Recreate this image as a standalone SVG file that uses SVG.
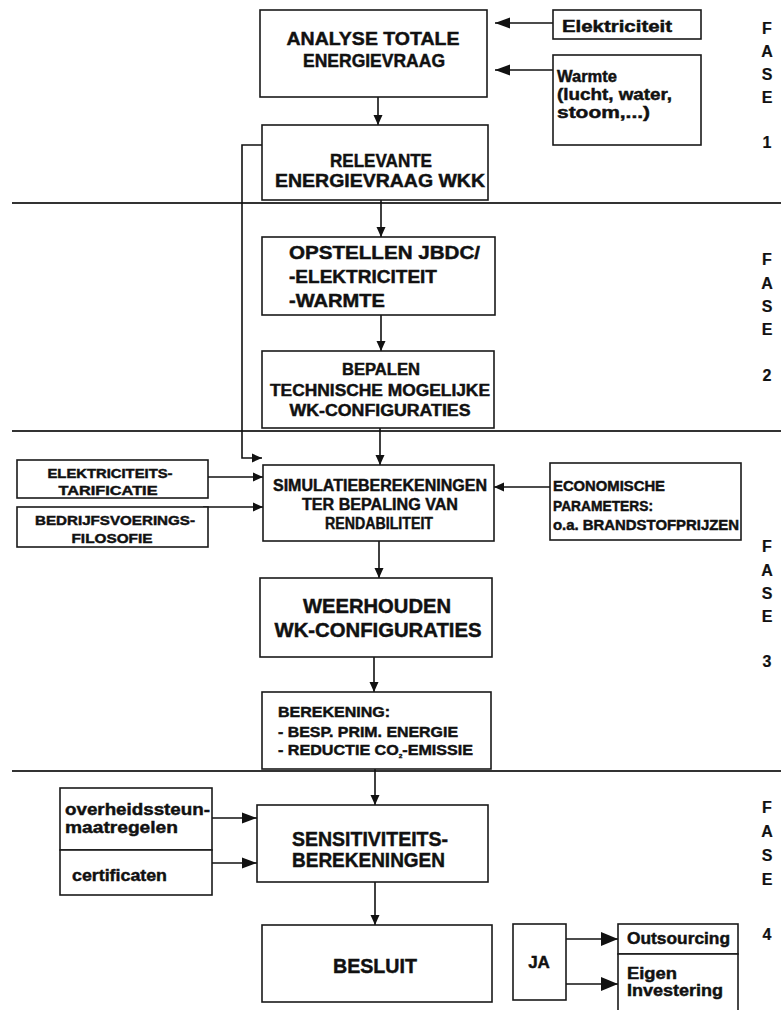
<svg xmlns="http://www.w3.org/2000/svg" width="781" height="1010" viewBox="0 0 781 1010">
<defs>
<style>
.box{fill:#fff;stroke:#1a1a1a;stroke-width:1.6}
.sep{stroke:#333;stroke-width:2}
.con{fill:none;stroke:#111;stroke-width:1.6}
text{font-family:"Liberation Sans",Arial,sans-serif;font-weight:bold;fill:#111;stroke:#111;stroke-width:0.45}
.c{text-anchor:middle}
.fase{font-size:16px;text-anchor:middle;stroke-width:0.2}
</style>
<marker id="aS" markerUnits="userSpaceOnUse" markerWidth="10" markerHeight="10" refX="10" refY="5" orient="auto"><path d="M0,0.5 L10,5 L0,9.5Z" fill="#111"/></marker>
<marker id="aM" markerUnits="userSpaceOnUse" markerWidth="15" markerHeight="12" refX="15" refY="6" orient="auto"><path d="M0,0.5 L15,6 L0,11.5Z" fill="#111"/></marker>
<marker id="aL" markerUnits="userSpaceOnUse" markerWidth="17" markerHeight="14" refX="17" refY="7" orient="auto"><path d="M0,0 L17,7 L0,14Z" fill="#111"/></marker>
</defs>
<rect width="781" height="1010" fill="#fff"/>

<g id="separators">
<line class="sep" x1="12" y1="203" x2="781" y2="203"/>
<line class="sep" x1="12" y1="431" x2="781" y2="431"/>
<line class="sep" x1="12" y1="771" x2="781" y2="771"/>
</g>

<g id="connectors">
<path class="con" d="M553,23 H495" marker-end="url(#aM)"/>
<path class="con" d="M553,70 H495" marker-end="url(#aM)"/>
<path class="con" d="M378,97 V125" marker-end="url(#aS)"/>
<path class="con" d="M262,145 H242 V458 H262" marker-end="url(#aS)"/>
<path class="con" d="M381,200 V237" marker-end="url(#aS)"/>
<path class="con" d="M381,315 V351" marker-end="url(#aS)"/>
<path class="con" d="M380,428 V465" marker-end="url(#aS)"/>
<path class="con" d="M203,477 H263" marker-end="url(#aS)"/>
<path class="con" d="M203,507 H263" marker-end="url(#aS)"/>
<path class="con" d="M550,487 H494" marker-end="url(#aS)"/>
<path class="con" d="M379,541 V578" marker-end="url(#aS)"/>
<path class="con" d="M374,657 V692" marker-end="url(#aS)"/>
<path class="con" d="M375,769 V805" marker-end="url(#aS)"/>
<path class="con" d="M212,818 H257" marker-end="url(#aM)"/>
<path class="con" d="M212,863 H257" marker-end="url(#aM)"/>
<path class="con" d="M375,882 V925" marker-end="url(#aS)"/>
<path class="con" d="M566,939 H618" marker-end="url(#aL)"/>
<path class="con" d="M566,984 H618" marker-end="url(#aL)"/>
</g>

<g id="analyse">
<rect class="box" x="260" y="10" width="227" height="87"/>
<text class="c" x="373" y="45" font-size="18" textLength="173" lengthAdjust="spacingAndGlyphs">ANALYSE TOTALE</text>
<text class="c" x="374" y="67" font-size="18" textLength="142" lengthAdjust="spacingAndGlyphs">ENERGIEVRAAG</text>
</g>
<g id="elektriciteit">
<rect class="box" x="553" y="10" width="148" height="29"/>
<text x="562" y="32" font-size="16" textLength="110" lengthAdjust="spacingAndGlyphs">Elektriciteit</text>
</g>
<g id="warmte">
<rect class="box" x="553" y="55" width="148" height="90"/>
<text x="557" y="82" font-size="16" textLength="60" lengthAdjust="spacingAndGlyphs">Warmte</text>
<text x="557" y="100" font-size="16" textLength="115" lengthAdjust="spacingAndGlyphs">(lucht, water,</text>
<text x="557" y="118" font-size="16" textLength="93" lengthAdjust="spacingAndGlyphs">stoom,...)</text>
</g>
<g id="relevante">
<rect class="box" x="262" y="125" width="226" height="75"/>
<text class="c" x="381" y="167" font-size="19" textLength="102" lengthAdjust="spacingAndGlyphs">RELEVANTE</text>
<text class="c" x="380" y="187" font-size="19" textLength="210" lengthAdjust="spacingAndGlyphs">ENERGIEVRAAG WKK</text>
</g>
<g id="fase1">
<text class="fase" x="767" y="34">F</text>
<text class="fase" x="767" y="57">A</text>
<text class="fase" x="767" y="80">S</text>
<text class="fase" x="767" y="103">E</text>
<text class="fase" x="767" y="148">1</text>
</g>

<g id="opstellen">
<rect class="box" x="262" y="237" width="233" height="78"/>
<text x="289" y="259" font-size="18" textLength="191" lengthAdjust="spacingAndGlyphs">OPSTELLEN JBDC/</text>
<text x="289" y="283" font-size="18" textLength="148" lengthAdjust="spacingAndGlyphs">-ELEKTRICITEIT</text>
<text x="289" y="307" font-size="18" textLength="96" lengthAdjust="spacingAndGlyphs">-WARMTE</text>
</g>
<g id="bepalen">
<rect class="box" x="262" y="351" width="232" height="77"/>
<text class="c" x="381" y="375" font-size="16" textLength="78" lengthAdjust="spacingAndGlyphs">BEPALEN</text>
<text class="c" x="380" y="396" font-size="16" textLength="220" lengthAdjust="spacingAndGlyphs">TECHNISCHE MOGELIJKE</text>
<text class="c" x="380" y="416" font-size="16" textLength="181" lengthAdjust="spacingAndGlyphs">WK-CONFIGURATIES</text>
</g>
<g id="fase2">
<text class="fase" x="767" y="265">F</text>
<text class="fase" x="767" y="289">A</text>
<text class="fase" x="767" y="312">S</text>
<text class="fase" x="767" y="335">E</text>
<text class="fase" x="767" y="381">2</text>
</g>

<g id="tarificatie">
<rect class="box" x="17" y="460" width="191" height="38"/>
<text class="c" x="110" y="478" font-size="13" textLength="125" lengthAdjust="spacingAndGlyphs">ELEKTRICITEITS-</text>
<text class="c" x="108" y="495" font-size="13" textLength="99" lengthAdjust="spacingAndGlyphs">TARIFICATIE</text>
</g>
<g id="bedrijfsvoering">
<rect class="box" x="17" y="507" width="191" height="40"/>
<text class="c" x="115" y="525" font-size="13" textLength="160" lengthAdjust="spacingAndGlyphs">BEDRIJFSVOERINGS-</text>
<text class="c" x="112" y="543" font-size="13" textLength="81" lengthAdjust="spacingAndGlyphs">FILOSOFIE</text>
</g>
<g id="simulatie">
<rect class="box" x="263" y="465" width="231" height="76"/>
<text class="c" x="380" y="491" font-size="16" textLength="214" lengthAdjust="spacingAndGlyphs">SIMULATIEBEREKENINGEN</text>
<text class="c" x="380" y="510" font-size="16" textLength="156" lengthAdjust="spacingAndGlyphs">TER BEPALING VAN</text>
<text class="c" x="379" y="529" font-size="16" textLength="108" lengthAdjust="spacingAndGlyphs">RENDABILITEIT</text>
</g>
<g id="economisch">
<rect class="box" x="550" y="463" width="191" height="77"/>
<text x="553" y="491" font-size="14" textLength="112" lengthAdjust="spacingAndGlyphs">ECONOMISCHE</text>
<text x="553" y="511" font-size="14" textLength="100" lengthAdjust="spacingAndGlyphs">PARAMETERS:</text>
<text x="553" y="530" font-size="14" textLength="186" lengthAdjust="spacingAndGlyphs">o.a. BRANDSTOFPRIJZEN</text>
</g>
<g id="weerhouden">
<rect class="box" x="260" y="578" width="232" height="79"/>
<text class="c" x="377" y="613" font-size="20" textLength="148" lengthAdjust="spacingAndGlyphs">WEERHOUDEN</text>
<text class="c" x="378" y="637" font-size="20" textLength="207" lengthAdjust="spacingAndGlyphs">WK-CONFIGURATIES</text>
</g>
<g id="berekening">
<rect class="box" x="262" y="692" width="229" height="77"/>
<text x="278" y="717" font-size="15" textLength="112" lengthAdjust="spacingAndGlyphs">BEREKENING:</text>
<text x="278" y="737" font-size="15" textLength="180" lengthAdjust="spacingAndGlyphs">- BESP. PRIM. ENERGIE</text>
<text x="278" y="755" font-size="15" textLength="195" lengthAdjust="spacingAndGlyphs">- REDUCTIE CO<tspan font-size="6" dy="3">2</tspan><tspan dy="-3">-EMISSIE</tspan></text>
</g>
<g id="fase3">
<text class="fase" x="767" y="552">F</text>
<text class="fase" x="767" y="576">A</text>
<text class="fase" x="767" y="599">S</text>
<text class="fase" x="767" y="622">E</text>
<text class="fase" x="767" y="667">3</text>
</g>

<g id="overheidssteun">
<rect class="box" x="60" y="788" width="152" height="62"/>
<text x="65" y="815" font-size="17" textLength="145" lengthAdjust="spacingAndGlyphs">overheidssteun-</text>
<text x="65" y="833" font-size="17" textLength="113" lengthAdjust="spacingAndGlyphs">maatregelen</text>
</g>
<g id="certificaten">
<rect class="box" x="60" y="850" width="152" height="45"/>
<text x="72" y="881" font-size="17" textLength="95" lengthAdjust="spacingAndGlyphs">certificaten</text>
</g>
<g id="sensitiviteit">
<rect class="box" x="257" y="805" width="231" height="77"/>
<text x="292" y="846" font-size="20" textLength="156" lengthAdjust="spacingAndGlyphs">SENSITIVITEITS-</text>
<text x="292" y="867" font-size="20" textLength="153" lengthAdjust="spacingAndGlyphs">BEREKENINGEN</text>
</g>
<g id="besluit">
<rect class="box" x="262" y="925" width="230" height="77"/>
<text class="c" x="375" y="973" font-size="20" textLength="84" lengthAdjust="spacingAndGlyphs">BESLUIT</text>
</g>
<g id="ja">
<rect class="box" x="513" y="924" width="53" height="76"/>
<text class="c" x="539" y="968" font-size="17">JA</text>
</g>
<g id="outsourcing">
<rect class="box" x="618" y="924" width="120" height="30"/>
<text x="627" y="944" font-size="16" textLength="103" lengthAdjust="spacingAndGlyphs">Outsourcing</text>
</g>
<g id="eigen-investering">
<rect class="box" x="618" y="954" width="120" height="62"/>
<text x="627" y="979" font-size="16" textLength="50" lengthAdjust="spacingAndGlyphs">Eigen</text>
<text x="627" y="996" font-size="16" textLength="96" lengthAdjust="spacingAndGlyphs">Investering</text>
</g>
<g id="fase4">
<text class="fase" x="767" y="813">F</text>
<text class="fase" x="767" y="837">A</text>
<text class="fase" x="767" y="861">S</text>
<text class="fase" x="767" y="885">E</text>
<text class="fase" x="767" y="940">4</text>
</g>
</svg>
